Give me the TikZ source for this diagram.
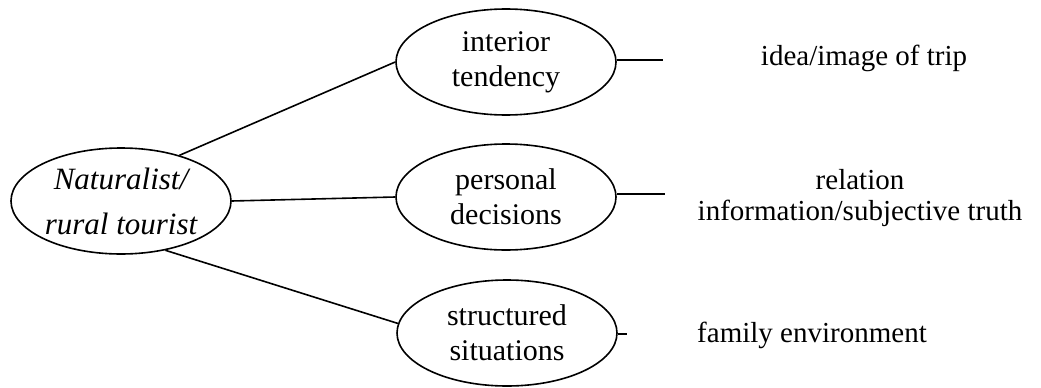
\documentclass[tikz,border=0pt]{standalone}
\usepackage{fontspec}
\setmainfont{Liberation Serif}
\usetikzlibrary{shapes.geometric}
\begin{document}
\begin{tikzpicture}[x=1pt,y=-1pt, line width=1.6pt,
  oval/.style={ellipse, draw, minimum width=220pt, minimum height=106pt, inner sep=0pt, align=center, font=\fontsize{30}{35}\selectfont},
  lbl/.style={align=center, font=\fontsize{29}{31}\selectfont, inner sep=0pt}]
\useasboundingbox (0,0) rectangle (1041,388);
\node[oval, font=\fontsize{31}{45}\selectfont\itshape] (L) at (121,201) {Naturalist/\\rural tourist};
\node[oval] (T) at (506,62) {interior\\tendency};
\node[oval] (M) at (506,197) {personal\\decisions};
\node[oval] (B) at (507,333) {structured\\situations};
\draw (L.38) -- (T.west);
\draw (L.east) -- (M.west);
\draw (L.-48) -- (B.175);
\coordinate (te) at (663,60);
\coordinate (me) at (665,194);
\coordinate (be) at (627,334);
\draw (T.east |- te) -- (te);
\draw (M.east |- me) -- (me);
\draw (B.east |- be) -- (be);
\node[lbl] (t1) at (864,58) {idea/image of trip};
\node[lbl] (t2) at (860,198) {relation\\information/subjective truth};
\node[lbl] (t3) at (812,335) {family environment};
\end{tikzpicture}
\end{document}
